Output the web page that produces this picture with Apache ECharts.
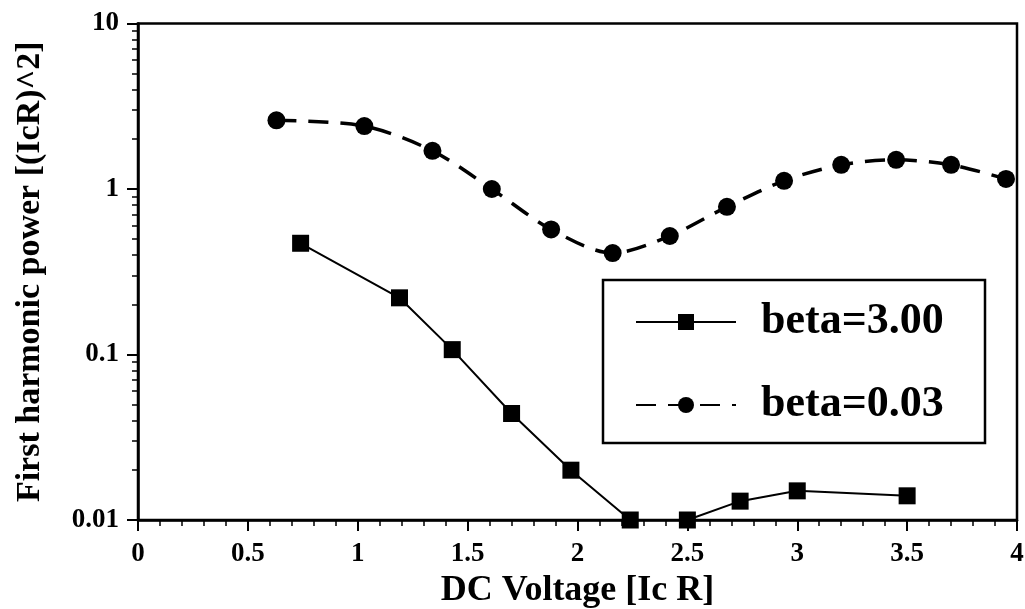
<!DOCTYPE html>
<html>
<head>
<meta charset="utf-8">
<script src="https://cdn.jsdelivr.net/npm/echarts@6/dist/echarts.min.js"></script>
<style>
html,body{margin:0;padding:0;background:#fff;}
#chart{width:1025px;height:609px;}
</style>
</head>
<body>
<div id="chart"></div>
<script>
// Data
var squareX = [0.74, 1.19, 1.43, 1.70, 1.97, 2.24, 2.50, 2.74, 3.00, 3.50];
var squareY = [0.47, 0.22, 0.107, 0.044, 0.020, 0.010, 0.010, 0.013, 0.015, 0.014];
var circleX = [0.63, 1.03, 1.34, 1.61, 1.88, 2.16, 2.42, 2.68, 2.94, 3.20, 3.45, 3.70, 3.95];
var circleY = [2.6, 2.4, 1.7, 1.0, 0.57, 0.41, 0.52, 0.78, 1.12, 1.40, 1.50, 1.40, 1.15];
var seriesNames = ['beta=3.00', 'beta=0.03'];
var yMinorTicks = [0.02,0.03,0.04,0.05,0.06,0.07,0.08,0.09,0.2,0.3,0.4,0.5,0.6,0.7,0.8,0.9,2,3,4,5,6,7,8,9];
var xTitle = 'DC Voltage [Ic R]';
var yTitle = 'First harmonic power [(IcR)^2]';

function pairs(xs, ys){ return xs.map(function(x,i){ return [x, ys[i]]; }); }

var FONT = 'Liberation Serif';
var chart = echarts.init(document.getElementById('chart'));
chart.setOption({
  animation: false,
  backgroundColor: '#fff',
  textStyle: { fontFamily: FONT, color: '#000', fontWeight: 'bold' },
  grid: { left: 138, right: 8, top: 23.5, bottom: 89, show: true, borderColor: '#000', borderWidth: 2.5, backgroundColor: 'transparent', containLabel: false, outerBoundsMode: 'none' },
  xAxis: {
    type: 'value', min: 0, max: 4, interval: 0.5,
    name: xTitle, nameLocation: 'middle', nameGap: 46,
    nameTextStyle: { fontFamily: FONT, fontSize: 36, fontWeight: 'bold', color: '#000' },
    axisLine: { show: true, lineStyle: { color: '#000', width: 2.5 } },
    axisTick: { show: true, length: 11, lineStyle: { color: '#000', width: 2 } },
    minorTick: { show: true, splitNumber: 5, length: 6, lineStyle: { color: '#000', width: 1.5 } },
    axisLabel: { fontFamily: FONT, fontSize: 27, fontWeight: 'bold', color: '#000', margin: 21 },
    splitLine: { show: false }
  },
  yAxis: [{
    type: 'log', logBase: 10, min: 0.01, max: 10,
    name: yTitle, nameLocation: 'middle', nameGap: 91,
    nameTextStyle: { fontFamily: FONT, fontSize: 34, fontWeight: 'bold', color: '#000' },
    axisLine: { show: true, lineStyle: { color: '#000', width: 2.5 } },
    axisTick: { show: true, length: 11, lineStyle: { color: '#000', width: 2 } },
    axisLabel: { fontFamily: FONT, fontSize: 27, fontWeight: 'bold', color: '#000', margin: 19 },
    splitLine: { show: false }
  }, {
    type: 'log', logBase: 10, min: 0.01, max: 10, position: 'left',
    axisLine: { show: false },
    axisTick: { show: true, length: 6, customValues: yMinorTicks, lineStyle: { color: '#000', width: 1.5 } },
    axisLabel: { show: false },
    splitLine: { show: false }
  }],
  legend: {
    orient: 'vertical', left: 630, top: 295, z: 10,
    itemWidth: 100, itemHeight: 20, itemGap: 39,
    data: seriesNames,
    textStyle: { fontFamily: FONT, fontSize: 44, fontWeight: 'bold', color: '#000', lineHeight: 44, padding: [0, 0, 0, 20] }
  },
  graphic: [{
    type: 'rect', z: 3,
    shape: { x: 603, y: 280, width: 382, height: 163 },
    style: { fill: '#fff', stroke: '#000', lineWidth: 2.5 }
  }],
  series: [{
    name: seriesNames[0], type: 'line', yAxisIndex: 0,
    data: pairs(squareX, squareY),
    symbol: 'rect', symbolSize: 17,
    itemStyle: { color: '#000' },
    lineStyle: { color: '#000', width: 2 },
    clip: false
  }, {
    name: seriesNames[1], type: 'line', yAxisIndex: 0,
    data: pairs(circleX, circleY),
    symbol: 'circle', symbolSize: 18, smooth: 0.3,
    itemStyle: { color: '#000' },
    lineStyle: { color: '#000', width: 3.5, type: [20, 12] },
    clip: false
  }]
});
</script>
</body>
</html>
